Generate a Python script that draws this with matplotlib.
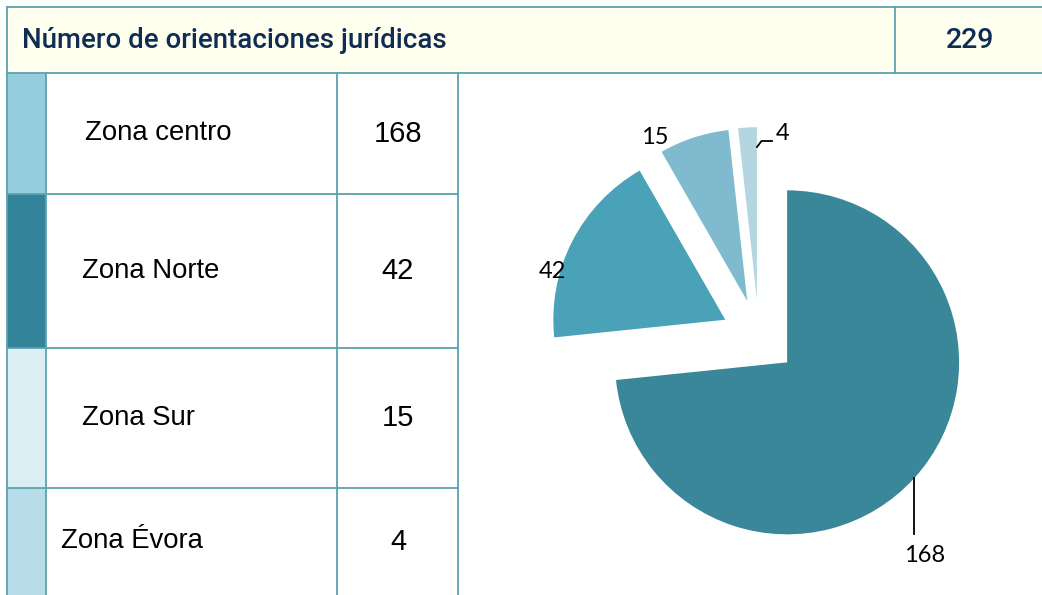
import matplotlib
matplotlib.use("Agg")
import matplotlib.pyplot as plt
from matplotlib.patches import Rectangle

# ---------------- data ----------------
title_text = "Número de orientaciones jurídicas"
total_value = 229
zones = ["Zona centro", "Zona Norte", "Zona Sur", "Zona Évora"]
counts = [168, 42, 15, 4]

# ---------------- style ----------------
strip_colors = ["#95CDDD", "#33849A", "#DAEEF3", "#B7DEE8"]
pie_colors = ["#3A8799", "#4AA2B9", "#7FBACE", "#B5D6E1"]
line_color = "#5BA3B0"
header_fill = "#FFFFF0"
header_text_color = "#0F2C52"

W, H = 1042, 595
fig = plt.figure(figsize=(W / 100, H / 100), dpi=100)
fig.patch.set_facecolor("white")

# full-figure pixel axes for the table
tab = fig.add_axes([0, 0, 1, 1])
tab.set_xlim(0, W)
tab.set_ylim(H, 0)
tab.axis("off")

# header
tab.add_patch(Rectangle((7, 7), W - 7, 66, facecolor=header_fill, edgecolor="none"))
tab.plot([7, W], [7, 7], color=line_color, lw=1.3)
tab.plot([7, W], [73, 73], color=line_color, lw=1.3)
tab.plot([7, 7], [7, 73], color=line_color, lw=1.3)
tab.plot([895, 895], [7, 73], color=line_color, lw=1.3)
tab.text(22, 40, title_text, fontsize=19.9, color=header_text_color,
         family=["Roboto", "DejaVu Sans"], ha="left", va="center",
         fontweight="medium")
tab.text(970, 40, str(total_value), fontsize=20.5, color=header_text_color,
         family=["Roboto", "DejaVu Sans"], ha="center", va="center",
         fontweight="medium")

# rows
row_edges = [73, 194, 348, 488, 595]
text_x = [85, 82, 82, 61]
for i, (z, c) in enumerate(zip(zones, counts)):
    y0, y1 = row_edges[i], row_edges[i + 1]
    tab.add_patch(Rectangle((7, y0), 39, y1 - y0, facecolor=strip_colors[i], edgecolor="none"))
    yc = (y0 + y1) / 2
    tab.text(text_x[i], yc, z, fontsize=19.8, color="black",
             family=["Liberation Sans", "DejaVu Sans"], ha="left", va="center")
    tab.text(398, yc, str(c), fontsize=21, color="black",
             family=["Liberation Sans", "DejaVu Sans"], ha="center", va="center")
for y in row_edges[1:-1]:
    tab.plot([7, 458], [y, y], color=line_color, lw=1.3)
for x in [7, 46, 337, 458]:
    tab.plot([x, x], [73, H], color=line_color, lw=1.3)

# ---------------- pie ----------------
cx, cy, R = 759, 337, 172
ax_l, ax_r, ax_t, ax_b = 470, 1040, 75, 595
pie_ax = fig.add_axes([ax_l / W, 1 - ax_b / H, (ax_r - ax_l) / W, (ax_b - ax_t) / H])
wedges, _ = pie_ax.pie(counts, colors=pie_colors, startangle=90, counterclock=False,
                       explode=[0.22] * len(counts), radius=1,
                       wedgeprops=dict(linewidth=0))
pie_ax.set_aspect("auto")
pie_ax.set_xlim((ax_l - cx) / R, (ax_r - cx) / R)
pie_ax.set_ylim(-(ax_b - cy) / R, (cy - ax_t) / R)
pie_ax.axis("off")


def px(x, y):
    return (x - cx) / R, (cy - y) / R


lab_font = dict(fontsize=17, color="black", family=["Lato", "DejaVu Sans"],
                ha="center", va="center")
label_px = [(925, 556), (552, 272), (655, 138), (783, 133)]
for c, (lx, ly) in zip(counts, label_px):
    pie_ax.text(*px(lx, ly), str(c), **lab_font)
# leader lines
l1 = [px(914, 478), px(914, 534)]
pie_ax.plot([p[0] for p in l1], [p[1] for p in l1], color="black", lw=1.3)
l2 = [px(757, 147), px(761.5, 141), px(772, 141)]
pie_ax.plot([p[0] for p in l2], [p[1] for p in l2], color="black", lw=1.3)

fig.savefig("out.png", dpi=100, facecolor="white")
